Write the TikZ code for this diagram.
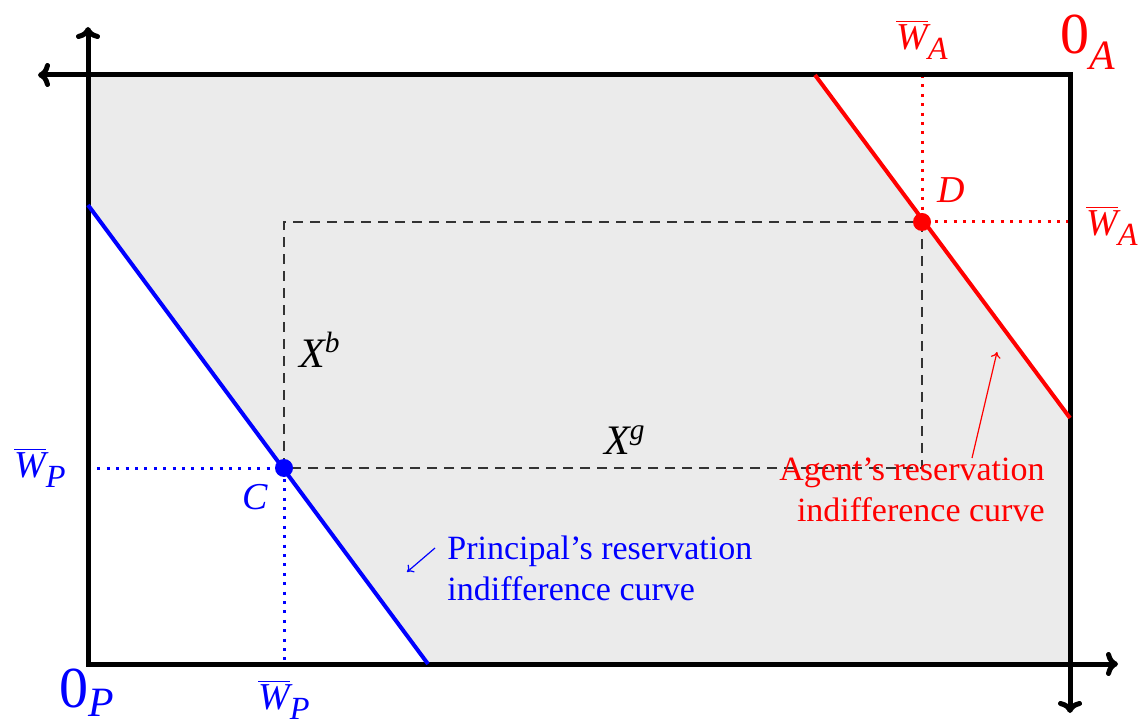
\documentclass[tikz,border=0pt]{standalone}
\usepackage{fontspec}
\usepackage{graphicx}
\setmainfont{Liberation Serif}
\usetikzlibrary{arrows.meta}
\definecolor{regiongray}{HTML}{EBEBEB}
\newcommand\subs[4]{{#1}\raisebox{#4}{\scalebox{#3}{#2}}}
\newcommand\Wbar[1]{\subs{$\overline{\hbox{\itshape W}}$}{\itshape #1}{0.85}{-0.28em}}
\begin{document}
\begin{tikzpicture}[x=0.5pt,y=-0.5pt,
  axis/.style={line width=2.5pt,-{To[length=6pt,width=12pt]}},
  box/.style={line width=2.5pt},
  curve/.style={line width=2pt},
  guide/.style={line width=1.5pt,dash pattern=on 1.5pt off 3.2pt},
  dashline/.style={line width=0.7pt,black!80,dash pattern=on 5pt off 3.5pt},
  note/.style={line width=0.6pt,-{To[length=3pt,width=5pt]}},
  lab/.style={inner sep=0pt,font=\fontsize{19}{22}\selectfont},
  big/.style={inner sep=0pt,font=\fontsize{29}{34}\selectfont},
  txt/.style={inner sep=0pt,font=\fontsize{17}{20.4}\selectfont}]
\useasboundingbox (0,0) rectangle (1144,726);
% corners and points
\coordinate (BL) at (88,664);
\coordinate (TL) at (88,75);
\coordinate (TR) at (1070,75);
\coordinate (BR) at (1070,664);
\coordinate (Ytip) at (88,27);
\coordinate (Xtip) at (1118,664);
\coordinate (Ltip) at (38,75);
\coordinate (Dtip) at (1070,713);
\coordinate (B1) at (88,205);
\coordinate (B2) at (428,664);
\coordinate (R1) at (815,75);
\coordinate (R2) at (1070,418);
\coordinate (C) at (284,468);
\coordinate (D) at (922,222);
\coordinate (CL) at (88,468);
\coordinate (CB) at (284,664);
\coordinate (DT) at (922,75);
\coordinate (DR) at (1070,222);
\coordinate (Ctop) at (284,222);
\coordinate (Dbot) at (922,468);
% shaded region
\fill[regiongray] (TL) -- (R1) -- (R2) -- (BR) -- (B2) -- (B1) -- cycle;
% dashed rectangle
\draw[dashline] (C) -- (Ctop) -- (D) -- (Dbot) -- cycle;
% guides
\draw[guide,blue] (CL) -- (C) -- (CB);
\draw[guide,red] (DT) -- (D) -- (DR);
% box and axes
\draw[box] (TL) rectangle (BR);
\draw[axis] (BL) -- (Ytip);
\draw[axis] (BL) -- (Xtip);
\draw[axis] (TR) -- (Ltip);
\draw[axis] (TR) -- (Dtip);
% curves
\draw[curve,blue] (B1) -- (B2);
\draw[curve,red] (R1) -- (R2);
\fill[blue] (C) circle (4.5pt);
\fill[red] (D) circle (4.5pt);
% labels
\node[big,blue] (l0P) at (87,693) {\subs{0}{\itshape P}{0.72}{-0.16em}};
\node[big,red] (l0A) at (1088,42) {\subs{0}{\itshape A}{0.72}{-0.28em}};
\node[lab,blue] (lWPl) at (40,468) {\Wbar{P}};
\node[lab,blue] (lWPb) at (284,700) {\Wbar{P}};
\node[lab,red] (lWAt) at (922,40) {\Wbar{A}};
\node[lab,red] (lWAr) at (1112,226) {\Wbar{A}};
\node[lab,blue] (lC) at (255,497) {\itshape C};
\node[lab,red] (lD) at (951,190) {\itshape D};
\node[inner sep=0pt,font=\fontsize{21}{24}\selectfont] (lXb) at (320,350) {\itshape X\textsuperscript{b}};
\node[inner sep=0pt,font=\fontsize{21}{24}\selectfont] (lXg) at (625,440) {\itshape X\textsuperscript{g}};
\node[txt,blue,align=left,anchor=west] (pt) at (447,568) {Principal’s reservation\\indifference curve};
\node[txt,red,align=right,anchor=east] (at) at (1045,490) {Agent’s reservation\\indifference curve};
\coordinate (pa1) at (435,548);
\coordinate (pa2) at (407,572);
\coordinate (aa1) at (972,458);
\coordinate (aa2) at (997,352);
\draw[note,blue] (pa1) -- (pa2);
\draw[note,red] (aa1) -- (aa2);
\end{tikzpicture}
\end{document}
